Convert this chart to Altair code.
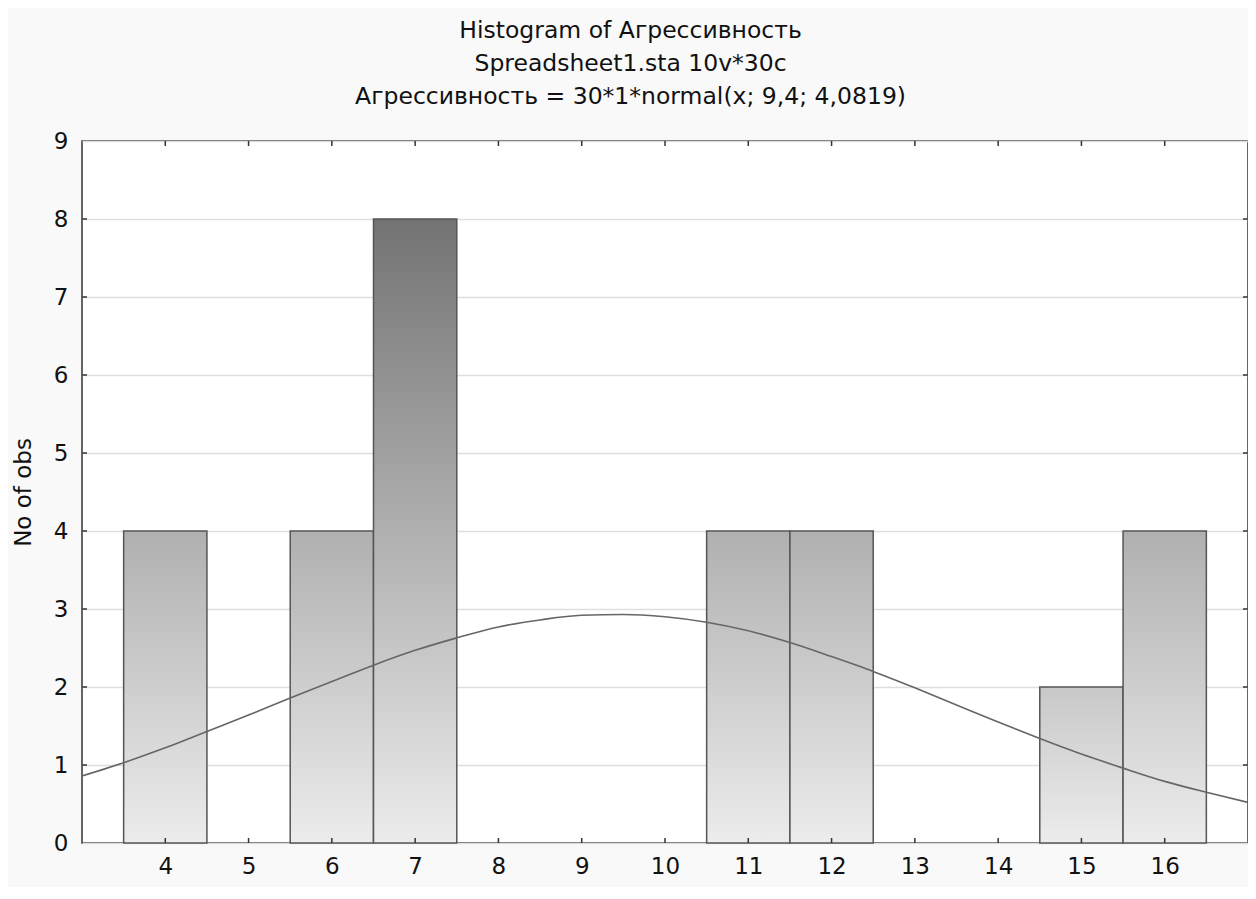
import altair as alt
import pandas as pd

# ---- data ----
bin_centers = [4, 5, 6, 7, 8, 9, 10, 11, 12, 13, 14, 15, 16]
counts = [4, 0, 4, 8, 0, 0, 0, 4, 4, 0, 0, 2, 4]

curve_x = [3, 3.5, 4, 4.5, 5, 5.5, 6, 6.5, 7, 7.5, 8, 8.5, 9, 9.5, 10,
           10.5, 11, 11.5, 12, 12.5, 13, 13.5, 14, 14.5, 15, 15.5, 16, 16.5, 17]
curve_y = [0.86, 1.03, 1.22, 1.43, 1.64, 1.86, 2.07, 2.28, 2.47, 2.63, 2.77, 2.86, 2.92, 2.93, 2.90,
           2.83, 2.72, 2.57, 2.39, 2.20, 1.99, 1.77, 1.55, 1.34, 1.14, 0.96, 0.79, 0.65, 0.52]

x_tick_values = [4, 5, 6, 7, 8, 9, 10, 11, 12, 13, 14, 15, 16]
y_tick_values = [0, 1, 2, 3, 4, 5, 6, 7, 8, 9]
inner_y_ticks = [1, 2, 3, 4, 5, 6, 7, 8]

title_lines = [
    "Histogram of Агрессивность",
    "Spreadsheet1.sta 10v*30c",
    "Агрессивность = 30*1*normal(x; 9,4; 4,0819)",
]
y_title = "No of obs"

# ---- styling ----
FONT = "DejaVu Sans"
W, H = 1166, 702
top_colors = {2: "#c8c8c8", 4: "#b0b0b0", 8: "#737373"}
bottom_color = "#ececec"
frame_color = "#333333"

bars_df = pd.DataFrame({"center": bin_centers, "count": counts})
bars_df["lo"] = bars_df["center"] - 0.5
bars_df["hi"] = bars_df["center"] + 0.5
bars_df = bars_df[bars_df["count"] > 0]

curve_df = pd.DataFrame({"x": curve_x, "y": curve_y})
xt_df = pd.DataFrame({"v": x_tick_values})
yt_df = pd.DataFrame({"v": inner_y_ticks})

xs = alt.Scale(domain=[3, 17], nice=False, zero=False)
ys = alt.Scale(domain=[0, 9], nice=False, zero=True)

x_axis = alt.Axis(values=x_tick_values, ticks=False, domain=False, grid=False,
                  labelFont=FONT, labelFontSize=23, labelColor="#111",
                  labelPadding=12, title=None)
y_axis = alt.Axis(values=y_tick_values, ticks=False, domain=False, grid=True,
                  gridColor="#dedede", gridWidth=1.5,
                  labelFont=FONT, labelFontSize=23, labelColor="#111",
                  labelPadding=14, title=y_title, titleFont=FONT,
                  titleFontSize=23, titleFontWeight="normal", titleColor="#111",
                  titlePadding=18)

layers = []
for h, top in top_colors.items():
    grad = alt.LinearGradient(
        gradient="linear",
        stops=[alt.GradientStop(color=top, offset=0),
               alt.GradientStop(color=bottom_color, offset=1)],
        x1=0, x2=0, y1=0, y2=1,
    )
    sub = bars_df[bars_df["count"] == h]
    layer = alt.Chart(sub).mark_bar(color=grad, stroke="#555555", strokeWidth=1.5).encode(
        x=alt.X("lo:Q", scale=xs, axis=x_axis),
        x2="hi:Q",
        y=alt.Y("count:Q", scale=ys, axis=y_axis),
        y2=alt.datum(0),
    )
    layers.append(layer)

curve = alt.Chart(curve_df).mark_line(color="#666666", strokeWidth=1.6,
                                      interpolate="monotone", clip=True).encode(
    x=alt.X("x:Q", scale=xs, axis=x_axis),
    y=alt.Y("y:Q", scale=ys, axis=y_axis),
)
layers.append(curve)

tick_style = dict(color=frame_color, strokeWidth=1.5)
bottom_ticks = alt.Chart(xt_df).mark_rule(**tick_style).encode(
    x=alt.X("v:Q", scale=xs, axis=x_axis), y=alt.value(H), y2=alt.value(H - 5))
top_ticks = alt.Chart(xt_df).mark_rule(**tick_style).encode(
    x=alt.X("v:Q", scale=xs, axis=x_axis), y=alt.value(0), y2=alt.value(5))
left_ticks = alt.Chart(yt_df).mark_rule(**tick_style).encode(
    y=alt.Y("v:Q", scale=ys, axis=y_axis), x=alt.value(0), x2=alt.value(5))
right_ticks = alt.Chart(yt_df).mark_rule(**tick_style).encode(
    y=alt.Y("v:Q", scale=ys, axis=y_axis), x=alt.value(W), x2=alt.value(W - 5))
layers += [bottom_ticks, top_ticks, left_ticks, right_ticks]

chart = alt.layer(*layers).properties(
    width=W, height=H,
    title=alt.TitleParams(text=title_lines, anchor="middle", frame="bounds",
                          font=FONT, fontSize=23.5, fontWeight="normal",
                          color="#111", lineHeight=33, offset=22),
    autosize=alt.AutoSizeParams(type="none"),
    padding={"left": 74, "top": 133, "right": 0, "bottom": 44},
    background="#f9f9f9",
).configure_view(stroke=frame_color, strokeWidth=1.5, fill="white")

chart.save("out.html", embed_options={"renderer": "svg", "actions": False})
